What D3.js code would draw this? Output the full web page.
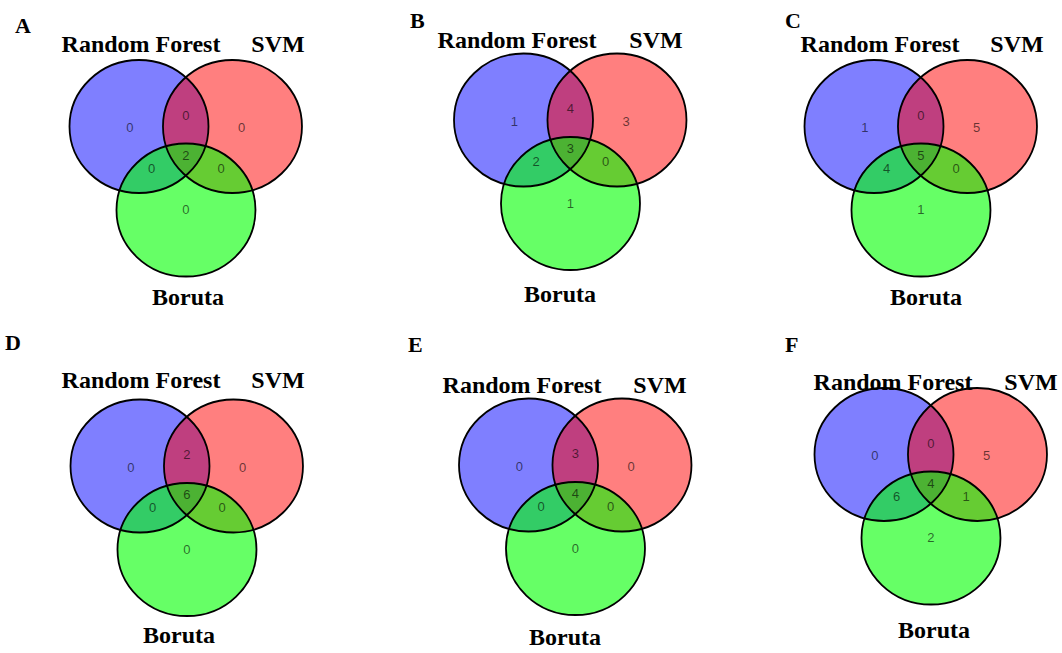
<!DOCTYPE html>
<html>
<head>
<meta charset="utf-8">
<script src="https://cdn.jsdelivr.net/npm/d3@7"></script>
<style>
  html, body { margin: 0; padding: 0; background: #fff; }
  svg { display: block; }
</style>
</head>
<body>
<svg id="chart" width="1062" height="653"></svg>
<script>
// Panels and the three feature-selection methods
const panels = ["A", "B", "C", "D", "E", "F"];
const setNames = ["Random Forest", "SVM", "Boruta"];
const setColors = ["#0000ff", "#ff0000", "#00ff00"];
const setAlpha = [0.5, 0.5, 0.6];

// Region counts per panel (A..F)
const rfOnly     = [0, 1, 1, 0, 0, 0];
const svmOnly    = [0, 3, 5, 0, 0, 5];
const borutaOnly = [0, 1, 1, 0, 0, 2];
const rfSvm      = [0, 4, 0, 2, 3, 0];
const rfBoruta   = [0, 2, 4, 0, 0, 6];
const svmBoruta  = [0, 0, 0, 0, 0, 1];
const allThree   = [2, 3, 5, 6, 4, 4];

// Unit geometry of the three-set diagram (radius = 1)
const circleCenters = [[0, 0], [1.345, 0], [0.676, 1.256]];
const regionSpots = [
  { values: rfOnly,     at: [-0.13, 0.02] },
  { values: svmOnly,    at: [1.475, 0.02] },
  { values: borutaOnly, at: [0.676, 1.25] },
  { values: rfSvm,      at: [0.676, -0.17] },
  { values: rfBoruta,   at: [0.18, 0.63] },
  { values: svmBoruta,  at: [1.18, 0.63] },
  { values: allThree,   at: [0.676, 0.43] }
];

// Placement of each panel on the page
const layout = [
  { ox: 139,   oy: 126.5, tag: [15, 33],  names: [[2, -75],   [139, -75],   [49, 178.5]] },
  { ox: 523.5, oy: 120,   tag: [410, 28], names: [[-6.5, -72], [132.5, -72], [36.5, 182]] },
  { ox: 874,   oy: 126.5, tag: [785, 28], names: [[6, -74.5],  [143, -74.5], [52, 178.5]] },
  { ox: 140,   oy: 466,   tag: [5, 350],  names: [[1, -78],    [138, -78],   [39, 177]] },
  { ox: 528.5, oy: 465,   tag: [408, 352], names: [[-6.5, -72], [131.5, -72], [36.5, 180]] },
  { ox: 884,   oy: 454.5, tag: [785, 352], names: [[9, -64.5],  [147, -64.5], [50, 183.5]] }
];
const RX = 69.5, RY = 66.5;

const svg = d3.select("#chart");
const serif = "'Liberation Serif', 'Times New Roman', Times, serif";
const sans = "'Liberation Sans', Arial, Helvetica, sans-serif";

panels.forEach((letter, i) => {
  const L = layout[i];
  const x = d3.scaleLinear().domain([0, 1]).range([L.ox, L.ox + RX]);
  const y = d3.scaleLinear().domain([0, 1]).range([L.oy, L.oy + RY]);
  const g = svg.append("g").attr("class", "panel panel-" + letter);

  // panel letter
  g.append("text")
    .attr("x", L.tag[0]).attr("y", L.tag[1])
    .attr("font-family", serif).attr("font-weight", "bold")
    .attr("font-size", 22).attr("fill", "#000")
    .text(letter);

  // translucent set fills
  g.selectAll("ellipse.fill")
    .data(circleCenters)
    .join("ellipse")
    .attr("class", "fill")
    .attr("cx", d => x(d[0]))
    .attr("cy", d => y(d[1]))
    .attr("rx", x(1) - x(0))
    .attr("ry", y(1) - y(0))
    .attr("fill", (d, k) => setColors[k])
    .attr("fill-opacity", (d, k) => setAlpha[k])
    .attr("stroke", "none");

  // outlines
  g.selectAll("ellipse.edge")
    .data(circleCenters)
    .join("ellipse")
    .attr("class", "edge")
    .attr("cx", d => x(d[0]))
    .attr("cy", d => y(d[1]))
    .attr("rx", x(1) - x(0))
    .attr("ry", y(1) - y(0))
    .attr("fill", "none")
    .attr("stroke", "#000")
    .attr("stroke-width", 1.8);

  // region counts, tinted by the region beneath
  g.selectAll("text.count")
    .data(regionSpots)
    .join("text")
    .attr("class", "count")
    .attr("x", d => x(d.at[0]))
    .attr("y", d => y(d.at[1]))
    .attr("text-anchor", "middle")
    .attr("dominant-baseline", "central")
    .attr("font-family", sans)
    .attr("font-size", 13)
    .attr("fill", "#000")
    .attr("fill-opacity", 0.6)
    .text(d => d.values[i]);

  // set names
  g.selectAll("text.setname")
    .data(setNames)
    .join("text")
    .attr("class", "setname")
    .attr("x", (d, k) => L.ox + L.names[k][0])
    .attr("y", (d, k) => L.oy + L.names[k][1])
    .attr("text-anchor", "middle")
    .attr("font-family", serif)
    .attr("font-weight", "bold")
    .attr("font-size", 24)
    .attr("fill", "#000")
    .text(d => d);
});
</script>
</body>
</html>
